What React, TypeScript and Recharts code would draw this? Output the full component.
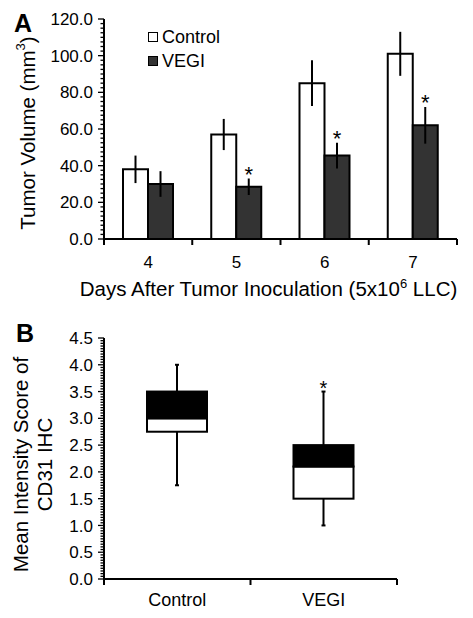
import React from 'react';
import { BarChart, Bar, XAxis, YAxis, ErrorBar, Legend, Rectangle } from 'recharts';

// Panel A: tumour volume by day
const days = ['4', '5', '6', '7'];
const controlMean = [38, 57, 85, 101];
const controlErr = [7.5, 8.5, 12.5, 12];
const vegiMean = [30, 28.5, 45.5, 62];
const vegiErr = [7, 4.5, 7, 10];
const vegiSig = ['', '*', '*', '*'];
const volumeTicks = [0, 20, 40, 60, 80, 100, 120];
const volumeMinorStep = 2.5;

// Panel B: CD31 IHC intensity box plot
const groups = ['Control', 'VEGI'];
const scoreMin = [1.75, 1.0];
const scoreQ1 = [2.75, 1.5];
const scoreMedian = [3.0, 2.1];
const scoreQ3 = [3.5, 2.5];
const scoreMax = [4.0, 3.5];
const scoreSig = ['', '*'];
const scoreTicks = [0, 0.5, 1, 1.5, 2, 2.5, 3, 3.5, 4, 4.5];
const scoreMinorStep = 0.05;

const VEGI_FILL = '#333333';
const FONT = '"Liberation Sans", Arial, sans-serif';

const volumeData = days.map((d, i) => ({
  day: d,
  control: controlMean[i],
  controlErr: controlErr[i],
  vegi: vegiMean[i],
  vegiErr: vegiErr[i],
  sig: vegiSig[i],
}));

const scoreData = groups.map((g, i) => ({
  group: g,
  min: scoreMin[i],
  q1: scoreQ1[i],
  median: scoreMedian[i],
  q3: scoreQ3[i],
  max: scoreMax[i],
  sig: scoreSig[i],
}));

const withMinor = (majors: number[], step: number) => {
  const top = majors[majors.length - 1];
  const n = Math.round(top / step);
  return Array.from({ length: n + 1 }, (_, i) => +(i * step).toFixed(4));
};

const YTick = (props: any) => {
  const { x, y, payload, majors, fontSize } = props;
  const v = payload.value;
  const major = majors.some((m: number) => Math.abs(m - v) < 1e-6);
  return (
    <g>
      <line x1={x - (major ? 6 : 3.5)} x2={x} y1={y} y2={y} stroke="#000" strokeWidth={1.3} />
      {major && (
        <text x={x - 11} y={y} dy="0.36em" textAnchor="end" fontSize={fontSize} fill="#000">
          {v.toFixed(1)}
        </text>
      )}
    </g>
  );
};

// category label at the band centre, tick marks at the band edges
const BandTick = (props: any) => {
  const { x, y, payload, width, visibleTicksCount, index, fontSize, labelDy } = props;
  const band = width / visibleTicksCount;
  return (
    <g>
      {index === 0 && <line x1={x - band / 2} x2={x - band / 2} y1={y} y2={y + 6} stroke="#000" strokeWidth={2} />}
      <line x1={x + band / 2} x2={x + band / 2} y1={y} y2={y + 6} stroke="#000" strokeWidth={2} />
      <text x={x} y={y + labelDy} textAnchor="middle" fontSize={fontSize} fill="#000">
        {payload.value}
      </text>
    </g>
  );
};

const VegiBar = (props: any) => {
  const { x, y, width, height, payload } = props;
  const perUnit = height / payload.vegi;
  const errTop = y - payload.vegiErr * perUnit;
  return (
    <g>
      <Rectangle x={x} y={y} width={width} height={height} fill={VEGI_FILL} stroke="#000" strokeWidth={2} />
      {payload.sig && (
        <text x={x + width / 2} y={errTop + 3} textAnchor="middle" fontSize={22} fill="#000">
          {payload.sig}
        </text>
      )}
    </g>
  );
};

// the bar spans min..max; quartiles are placed on the same linear scale
const BoxShape = (props: any) => {
  const { x, y, width, height, payload } = props;
  const top = Math.min(y, y + height);
  const bottom = Math.max(y, y + height);
  const perUnit = (bottom - top) / (payload.max - payload.min);
  const py = (v: number) => bottom - (v - payload.min) * perUnit;
  const cx = x + width / 2;
  return (
    <g>
      <line x1={cx} x2={cx} y1={top} y2={bottom} stroke="#000" strokeWidth={2} />
      <line x1={cx - 2} x2={cx + 2} y1={top} y2={top} stroke="#000" strokeWidth={2} />
      <line x1={cx - 2} x2={cx + 2} y1={bottom} y2={bottom} stroke="#000" strokeWidth={2} />
      <rect x={x} y={py(payload.median)} width={width} height={py(payload.q1) - py(payload.median)} fill="#fff" stroke="#000" strokeWidth={2} />
      <rect x={x} y={py(payload.q3)} width={width} height={py(payload.median) - py(payload.q3)} fill="#000" stroke="#000" strokeWidth={2} />
      {payload.sig && (
        <text x={cx} y={top + 3} textAnchor="middle" fontSize={20} fill="#000">
          {payload.sig}
        </text>
      )}
    </g>
  );
};

const LegendBox = (props: any) => (
  <div>
    {(props.payload || []).map((e: any) => (
      <div key={e.value} style={{ display: 'flex', alignItems: 'center', height: 24, fontSize: 18, color: '#000' }}>
        <span
          style={{
            display: 'inline-block',
            width: 8,
            height: 8,
            border: '1.5px solid #000',
            background: e.color,
            marginRight: 4,
          }}
        />
        {e.value}
      </div>
    ))}
  </div>
);

const axisStroke = { stroke: '#000', strokeWidth: 2 };

export default function App() {
  return (
    <div style={{ position: 'absolute', left: 0, top: 0, width: 473, height: 618, background: '#fff', fontFamily: FONT }}>
      <div style={{ position: 'absolute', left: 14, top: 9, fontSize: 25, fontWeight: 'bold' }}>A</div>
      <div style={{ position: 'absolute', left: 16, top: 319, fontSize: 25, fontWeight: 'bold' }}>B</div>

      <div style={{ position: 'absolute', left: 0, top: 0 }}>
        <BarChart
          width={473}
          height={300}
          data={volumeData}
          margin={{ top: 19, right: 16, left: 0, bottom: 0 }}
          barSize={25}
          barGap={0}
        >
          <XAxis
            dataKey="day"
            height={61}
            interval={0}
            tickLine={false}
            tickSize={0}
            tickMargin={0}
            axisLine={axisStroke}
            tick={<BandTick fontSize={17} labelDy={29} />}
            label={{
              content: (p: any) => {
                const vb = p.viewBox;
                return (
                  <text x={vb.x + vb.width / 2 - 12} y={vb.y + 57} textAnchor="middle" fontSize={20.5} fill="#000">
                    Days After Tumor Inoculation (5x10
                    <tspan dy={-8} fontSize={13}>6</tspan>
                    <tspan dy={8}> LLC)</tspan>
                  </text>
                );
              },
            }}
          />
          <YAxis
            width={104}
            domain={[0, 120]}
            ticks={withMinor(volumeTicks, volumeMinorStep)}
            interval={0}
            tickLine={false}
            tickSize={0}
            tickMargin={0}
            axisLine={axisStroke}
            tick={<YTick majors={volumeTicks} fontSize={17} />}
            label={{
              content: (p: any) => {
                const vb = p.viewBox;
                const cx = vb.x + 27;
                const cy = vb.y + vb.height / 2 + 4;
                return (
                  <text
                    x={cx}
                    y={cy}
                    transform={`rotate(-90 ${cx} ${cy})`}
                    textAnchor="middle"
                    dominantBaseline="central"
                    fontSize={20.5}
                    fill="#000"
                  >
                    Tumor Volume (mm
                    <tspan dy={-7} fontSize={13}>3</tspan>
                    <tspan dy={7}>)</tspan>
                  </text>
                );
              },
            }}
          />
          <Legend
            layout="horizontal"
            align="center"
            verticalAlign="middle"
            wrapperStyle={{ left: 148, top: 25, width: 120 }}
            content={LegendBox}
          />
          <Bar dataKey="control" name="Control" fill="#ffffff" stroke="#000" strokeWidth={2} isAnimationActive={false}>
            <ErrorBar dataKey="controlErr" width={0} stroke="#000" strokeWidth={2} />
          </Bar>
          <Bar dataKey="vegi" name="VEGI" fill={VEGI_FILL} stroke="#000" strokeWidth={2} shape={<VegiBar />} isAnimationActive={false}>
            <ErrorBar dataKey="vegiErr" width={0} stroke="#000" strokeWidth={2} />
          </Bar>
        </BarChart>
      </div>

      <div style={{ position: 'absolute', left: 0, top: 300 }}>
        <BarChart width={473} height={318} data={scoreData} margin={{ top: 38, right: 76, left: 0, bottom: 0 }}>
          <XAxis
            dataKey="group"
            height={39}
            interval={0}
            tickLine={false}
            tickSize={0}
            tickMargin={0}
            axisLine={axisStroke}
            tick={<BandTick fontSize={18} labelDy={27} />}
          />
          <YAxis
            width={104}
            domain={[0, 4.5]}
            ticks={withMinor(scoreTicks, scoreMinorStep)}
            interval={0}
            tickLine={false}
            tickSize={0}
            tickMargin={0}
            axisLine={axisStroke}
            tick={<YTick majors={scoreTicks} fontSize={17} />}
            label={{
              content: (p: any) => {
                const vb = p.viewBox;
                const cy = vb.y + vb.height / 2 + 6;
                const x1 = vb.x + 20;
                const x2 = vb.x + 44;
                return (
                  <g>
                    <text x={x1} y={cy} transform={`rotate(-90 ${x1} ${cy})`} textAnchor="middle" dominantBaseline="central" fontSize={20.5} fill="#000">
                      Mean Intensity Score of
                    </text>
                    <text x={x2} y={cy} transform={`rotate(-90 ${x2} ${cy})`} textAnchor="middle" dominantBaseline="central" fontSize={20.5} fill="#000">
                      CD31 IHC
                    </text>
                  </g>
                );
              },
            }}
          />
          <Bar
            dataKey={(d: any) => [d.min, d.max]}
            barSize={60}
            shape={<BoxShape />}
            isAnimationActive={false}
          />
        </BarChart>
      </div>
    </div>
  );
}
